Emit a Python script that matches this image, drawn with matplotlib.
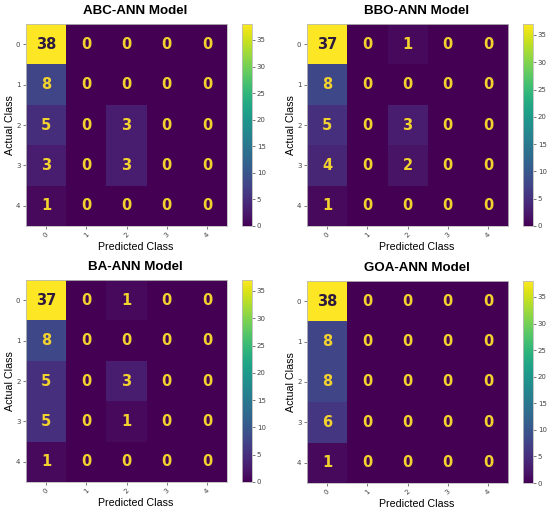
import numpy as np
import matplotlib.pyplot as plt

classes = [0, 1, 2, 3, 4]

titles = ["ABC-ANN Model", "BBO-ANN Model", "BA-ANN Model", "GOA-ANN Model"]

cm_abc = [[38, 0, 0, 0, 0],
          [8, 0, 0, 0, 0],
          [5, 0, 3, 0, 0],
          [3, 0, 3, 0, 0],
          [1, 0, 0, 0, 0]]

cm_bbo = [[37, 0, 1, 0, 0],
          [8, 0, 0, 0, 0],
          [5, 0, 3, 0, 0],
          [4, 0, 2, 0, 0],
          [1, 0, 0, 0, 0]]

cm_ba = [[37, 0, 1, 0, 0],
         [8, 0, 0, 0, 0],
         [5, 0, 3, 0, 0],
         [5, 0, 1, 0, 0],
         [1, 0, 0, 0, 0]]

cm_goa = [[38, 0, 0, 0, 0],
          [8, 0, 0, 0, 0],
          [8, 0, 0, 0, 0],
          [6, 0, 0, 0, 0],
          [1, 0, 0, 0, 0]]

matrices = [cm_abc, cm_bbo, cm_ba, cm_goa]

W, H = 550.0, 513.0
fig = plt.figure(figsize=(5.5, 5.13), dpi=100)

# pixel boxes (left, top) of each matrix, all about 201x202 px
boxes = [(26, 24), (307, 24), (26, 280), (307, 281)]
size_w, size_h = 201, 202

for k in range(4):
    cm = np.array(matrices[k])
    x0, y0 = boxes[k]
    ax = fig.add_axes([x0 / W, 1 - (y0 + size_h) / H, size_w / W, size_h / H])
    cax = fig.add_axes([(x0 + 216) / W, 1 - (y0 + size_h) / H, 10 / W, size_h / H])

    im = ax.imshow(cm, cmap='viridis', aspect='auto', vmin=0, vmax=cm.max())
    cb = fig.colorbar(im, cax=cax)
    cb.set_ticks([0, 5, 10, 15, 20, 25, 30, 35])
    cb.ax.tick_params(labelsize=5, length=2, width=0.5, colors='#444444', pad=1.5)
    cb.outline.set_edgecolor('#bbbbbb')
    cb.outline.set_linewidth(0.6)

    for i in range(len(classes)):
        for j in range(len(classes)):
            v = cm[i, j]
            col = '#2e1a3e' if v > cm.max() / 2 else '#f2d22e'
            ax.text(j, i, str(v), ha='center', va='center',
                    fontsize=10.5, fontweight='bold', color=col)

    ax.set_xticks(range(len(classes)))
    ax.set_yticks(range(len(classes)))
    ax.set_xticklabels(classes, rotation=45)
    ax.set_yticklabels(classes)
    ax.tick_params(labelsize=5, length=2, width=0.5, colors='#444444', pad=2)
    for s in ax.spines.values():
        s.set_edgecolor('#bbbbbb')
        s.set_linewidth(0.6)

    # title and x label sit a bit right of the matrix centre, as in the source
    cx = (x0 + size_w / 2 + 9) / W
    fig.text(cx, 1 - (y0 - 13) / H, titles[k], ha='center', va='center',
             fontsize=9.6, fontweight='bold', family='Liberation Sans')
    fig.text(cx, 1 - (y0 + 223) / H, "Predicted Class", ha='center', va='center',
             fontsize=7.7, family='Liberation Sans')
    ax.set_ylabel("Actual Class", fontsize=7.7, labelpad=1, family='Liberation Sans')

fig.savefig("out.png", dpi=100)
